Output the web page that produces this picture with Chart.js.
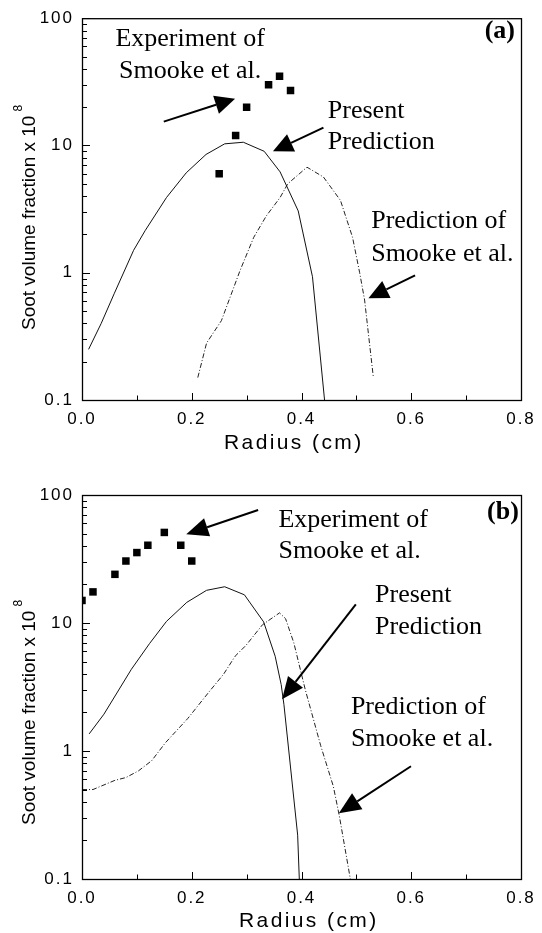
<!DOCTYPE html>
<html>
<head>
<meta charset="utf-8">
<script src="https://cdn.jsdelivr.net/npm/chart.js@4.4.1/dist/chart.umd.min.js"></script>
<style>
  html, body { margin: 0; padding: 0; background: #fff; }
  body { width: 542px; height: 933px; position: relative; overflow: hidden; }
  canvas { position: absolute; left: 0; }
  #chartA { top: 0; }
  #chartB { top: 466px; }
</style>
</head>
<body>
<canvas id="chartA" width="542" height="466"></canvas>
<canvas id="chartB" width="542" height="467"></canvas>
<script>

// axis ticks (same for both panels)
const xTickValues = [0, 0.2, 0.4, 0.6, 0.8]
const xMinorTicks = [0.1, 0.3, 0.5, 0.7]
const yTickValues = [0.1, 1, 10, 100]
const yTickLabels = ['0.1', '1', '10', '100']
const yMinorSteps = [2, 3, 4, 5, 6, 7, 8, 9]

// panel (a)
const presentRadiusA = [0.012, 0.035, 0.059, 0.094, 0.115, 0.154, 0.19, 0.226, 0.26, 0.294, 0.332, 0.361, 0.394, 0.42, 0.442]
const presentValueA  = [0.25, 0.40, 0.69, 1.5, 2.14, 3.9, 6.1, 8.5, 10.3, 10.6, 9.0, 6.2, 3.06, 0.93, 0.1]
const smookeRadiusA  = [0.211, 0.227, 0.254, 0.288, 0.313, 0.336, 0.361, 0.375, 0.41, 0.44, 0.471, 0.493, 0.506, 0.515, 0.531]
const smookeValueA   = [0.15, 0.28, 0.42, 1.04, 1.9, 2.8, 3.9, 5.0, 6.75, 5.65, 3.7, 1.9, 1.0, 0.61, 0.15]
const exptRadiusA    = [0.25, 0.28, 0.30, 0.34, 0.36, 0.38]
const exptValueA     = [6, 12, 20, 30, 35, 27]

// panel (b)
const presentRadiusB = [0.013, 0.04, 0.09, 0.123, 0.154, 0.191, 0.227, 0.26, 0.296, 0.331, 0.352, 0.363, 0.368, 0.393, 0.396]
const presentValueB  = [1.36, 1.94, 4.35, 6.9, 10.3, 14.5, 18.0, 19.2, 16.6, 10.2, 5.5, 3.3, 2.3, 0.22, 0.1]
const smookeRadiusB  = [0.0, 0.02, 0.06, 0.08, 0.103, 0.127, 0.152, 0.193, 0.233, 0.258, 0.279, 0.299, 0.329, 0.36, 0.371, 0.386, 0.407, 0.435, 0.458, 0.469, 0.489]
const smookeValueB   = [0.5, 0.5, 0.59, 0.62, 0.70, 0.84, 1.16, 1.8, 2.95, 3.98, 5.5, 6.7, 9.7, 12.0, 10.8, 7.0, 3.0, 1.1, 0.53, 0.31, 0.1]
const exptRadiusB    = [0.0, 0.02, 0.06, 0.08, 0.10, 0.12, 0.15, 0.18, 0.20]
const exptValueB     = [15, 17.5, 24, 30.5, 35.5, 40.5, 51, 40.5, 30.5]

const sansFont = "'Liberation Sans', Arial, sans-serif"
const serifFont = "'Liberation Serif', 'Times New Roman', serif"

function toPoints(xs, ys){
  return xs.map((x, i) => ({x: x, y: ys[i]}))
}

function drawArrow(ctx, x0, y0, x1, y1, headLen){
  const ang = Math.atan2(y1 - y0, x1 - x0)
  const half = 9.5
  const bx = x1 - headLen * Math.cos(ang)
  const by = y1 - headLen * Math.sin(ang)
  ctx.lineWidth = 2
  ctx.beginPath()
  ctx.moveTo(x0, y0)
  ctx.lineTo(bx, by)
  ctx.stroke()
  ctx.beginPath()
  ctx.moveTo(x1, y1)
  ctx.lineTo(bx - half * Math.sin(ang), by + half * Math.cos(ang))
  ctx.lineTo(bx + half * Math.sin(ang), by - half * Math.cos(ang))
  ctx.closePath()
  ctx.fill()
}

/* frame, inward ticks, axis titles and annotations */
const panelDecor = {
  id: 'panelDecor',
  beforeDraw(chart){
    chart.ctx.letterSpacing = '2px'
  },
  afterDraw(chart, args, opts){
    const ctx = chart.ctx
    const {left, right, top, bottom} = chart.chartArea
    const xs = chart.scales.x
    const ys = chart.scales.y
    ctx.save()
    ctx.letterSpacing = '0px'
    ctx.strokeStyle = '#000'
    ctx.fillStyle = '#000'

    // frame
    ctx.lineWidth = 1.3
    ctx.strokeRect(left + 0.5, top + 0.5, right - left, bottom - top)

    // ticks pointing into the plot
    ctx.lineWidth = 1
    ctx.beginPath()
    xTickValues.forEach(v => {
      const px = Math.round(xs.getPixelForValue(v)) + 0.5
      ctx.moveTo(px, bottom); ctx.lineTo(px, bottom - 7)
    })
    xMinorTicks.forEach(v => {
      const px = Math.round(xs.getPixelForValue(v)) + 0.5
      ctx.moveTo(px, bottom); ctx.lineTo(px, bottom - 4.5)
    })
    yTickValues.forEach(v => {
      const py = Math.round(ys.getPixelForValue(v)) + 0.5
      ctx.moveTo(left, py); ctx.lineTo(left + 8, py)
    })
    yTickValues.slice(0, -1).forEach(d => {
      yMinorSteps.forEach(m => {
        const py = Math.round(ys.getPixelForValue(d * m)) + 0.5
        ctx.moveTo(left, py); ctx.lineTo(left + 5, py)
      })
    })
    ctx.stroke()

    // y title with superscript
    ctx.save()
    ctx.translate(35, bottom - opts.yTitleOffset)
    ctx.rotate(-Math.PI / 2)
    ctx.font = '19px ' + sansFont
    ctx.textAlign = 'left'
    ctx.textBaseline = 'alphabetic'
    const main = 'Soot volume fraction x 10'
    ctx.fillText(main, 0, 0)
    const w = ctx.measureText(main).width
    ctx.font = '12px ' + sansFont
    ctx.fillText('8', w + 4, -13)
    ctx.restore()

    // x title
    ctx.save()
    ctx.font = '21px ' + sansFont
    ctx.letterSpacing = '2.4px'
    ctx.textAlign = 'left'
    ctx.fillText('Radius (cm)', opts.xTitleLeft, bottom + opts.xTitleDrop)
    ctx.restore()

    // text notes
    opts.notes.forEach(n => {
      ctx.font = (n.bold ? 'bold ' : '') + '26px ' + serifFont
      ctx.textAlign = n.align
      const px = xs.getPixelForValue(n.x)
      const py = ys.getPixelForValue(n.y)
      n.lines.forEach((t, i) => ctx.fillText(t, px, py + i * (n.gap || 32)))
    })

    // arrows
    opts.arrows.forEach(a => {
      drawArrow(ctx,
        xs.getPixelForValue(a.from[0]), ys.getPixelForValue(a.from[1]),
        xs.getPixelForValue(a.to[0]), ys.getPixelForValue(a.to[1]), a.head || 20)
    })
    ctx.restore()
  }
}

function makePanel(canvasId, series, decor){
  const canvas = document.getElementById(canvasId)
  return new Chart(canvas, {
    type: 'scatter',
    data: {
      datasets: [
        {
          label: 'Present Prediction',
          data: toPoints(series.presentR, series.presentV),
          showLine: true,
          borderColor: '#111',
          borderWidth: 1,
          pointRadius: 0,
          tension: 0
        },
        {
          label: 'Prediction of Smooke et al.',
          data: toPoints(series.smookeR, series.smookeV),
          showLine: true,
          borderColor: '#222',
          borderWidth: 1,
          borderDash: [5, 2, 1, 2],
          pointRadius: 0,
          tension: 0
        },
        {
          label: 'Experiment of Smooke et al.',
          data: toPoints(series.exptR, series.exptV),
          showLine: false,
          pointStyle: 'rect',
          pointRadius: 5.3,
          backgroundColor: '#000',
          borderWidth: 0
        }
      ]
    },
    options: {
      responsive: false,
      animation: false,
      devicePixelRatio: 1,
      layout: { padding: { top: decor.top, right: 21, left: 0, bottom: 0 } },
      plugins: {
        legend: { display: false },
        tooltip: { enabled: false },
        panelDecor: decor
      },
      scales: {
        x: {
          type: 'linear',
          min: 0,
          max: 0.8,
          grid: { display: false, drawTicks: false },
          border: { display: false },
          afterFit: s => { s.height = canvas.height - decor.bottom },
          afterBuildTicks: s => { s.ticks = xTickValues.map(v => ({value: v})) },
          ticks: {
            color: '#000',
            padding: 9,
            autoSkip: false,
            maxRotation: 0,
            font: { family: sansFont, size: 17 },
            callback: v => Number(v).toFixed(1)
          }
        },
        y: {
          type: 'logarithmic',
          min: 0.1,
          max: 100,
          grid: { display: false, drawTicks: false },
          border: { display: false },
          afterFit: s => { s.width = 82 },
          afterBuildTicks: s => { s.ticks = yTickValues.map(v => ({value: v})) },
          ticks: {
            color: '#000',
            padding: 8,
            autoSkip: false,
            font: { family: sansFont, size: 17 },
            callback: v => yTickLabels[yTickValues.indexOf(v)]
          }
        }
      }
    },
    plugins: [panelDecor]
  })
}

makePanel('chartA', {
  presentR: presentRadiusA, presentV: presentValueA,
  smookeR: smookeRadiusA, smookeV: smookeValueA,
  exptR: exptRadiusA, exptV: exptValueA
}, {
  top: 15, bottom: 400,
  yTitleOffset: 70, xTitleLeft: 224, xTitleDrop: 49,
  notes: [
    { lines: ['Experiment of', 'Smooke et al.'], x: 0.197, y: 60.4, align: 'center', gap: 32 },
    { lines: ['Present', 'Prediction'], x: 0.448, y: 16.3, align: 'left', gap: 31 },
    { lines: ['Prediction of', 'Smooke et al.'], x: 0.527, y: 2.26, align: 'left', gap: 33 },
    { lines: ['(a)'], x: 0.789, y: 69.7, align: 'right', bold: true }
  ],
  arrows: [
    { from: [0.149, 15.4], to: [0.279, 23.3] },
    { from: [0.440, 13.8], to: [0.348, 9.0] },
    { from: [0.607, 0.953], to: [0.522, 0.63] }
  ]
})

makePanel('chartB', {
  presentR: presentRadiusB, presentV: presentValueB,
  smookeR: smookeRadiusB, smookeV: smookeValueB,
  exptR: exptRadiusB, exptV: exptValueB
}, {
  top: 29, bottom: 413,
  yTitleOffset: 54, xTitleLeft: 239, xTitleDrop: 47.5,
  notes: [
    { lines: ['Experiment of', 'Smooke et al.'], x: 0.358, y: 56, align: 'left', gap: 31 },
    { lines: ['Present', 'Prediction'], x: 0.534, y: 14.5, align: 'left', gap: 32 },
    { lines: ['Prediction of', 'Smooke et al.'], x: 0.490, y: 1.94, align: 'left', gap: 32 },
    { lines: ['(b)'], x: 0.796, y: 64.6, align: 'right', bold: true }
  ],
  arrows: [
    { from: [0.321, 76.3], to: [0.190, 49.3], head: 22 },
    { from: [0.499, 14.0], to: [0.3645, 2.54], head: 22 },
    { from: [0.5995, 0.76], to: [0.468, 0.326], head: 22 }
  ]
})

</script>
</body>
</html>
